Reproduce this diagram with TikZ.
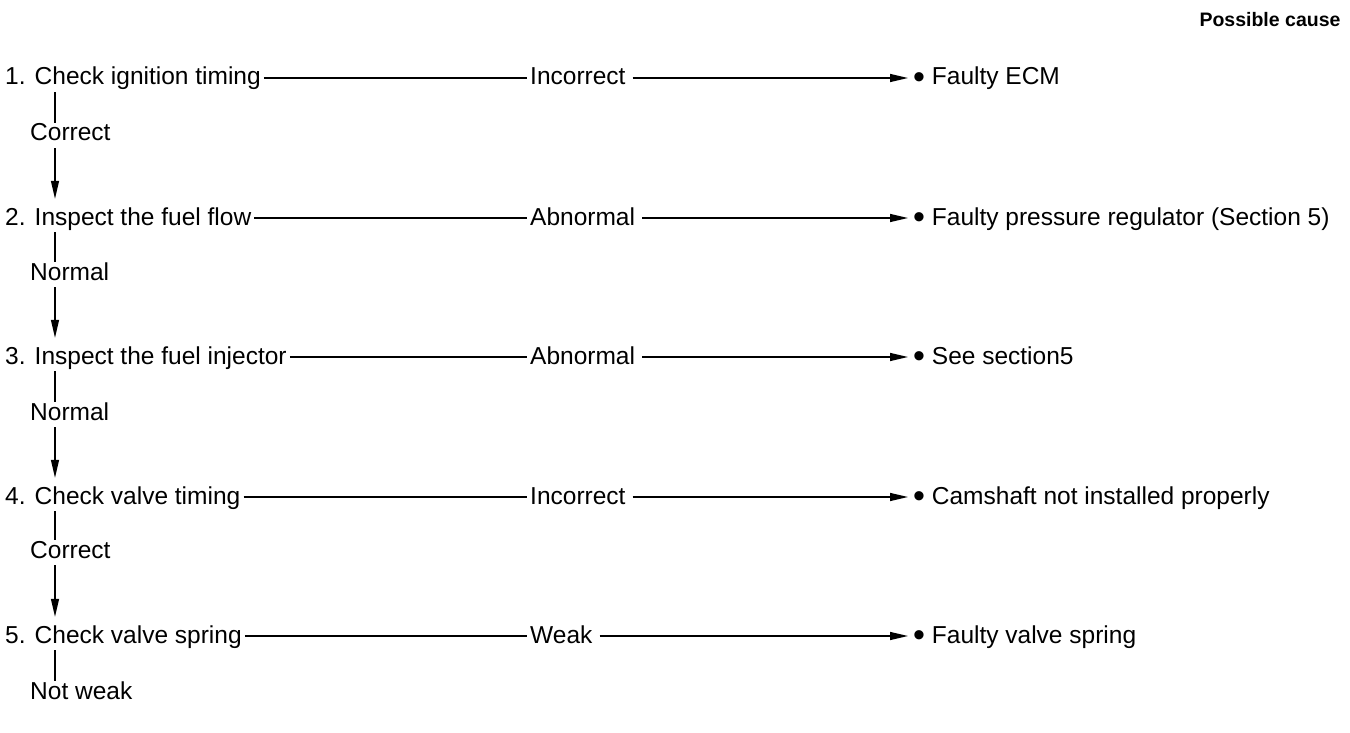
\documentclass[tikz,border=0pt]{standalone}
\usepackage{fontspec}
\setmainfont{Liberation Sans}
\usetikzlibrary{arrows.meta}
\newcommand{\bul}{\raisebox{-3.5pt}{\fontsize{34}{34}\selectfont •}}
\begin{document}
\begin{tikzpicture}[x=1pt,y=-1pt,
  every node/.style={font=\fontsize{24.5}{28}\selectfont, inner xsep=3pt, inner ysep=2pt, text height=19pt, text depth=5pt},
  stepbox/.style={anchor=west},
  outcome/.style={anchor=west},
  result/.style={anchor=west},
  cause/.style={anchor=west, inner xsep=5pt},
  conn/.style={line width=1.3pt},
  arr/.style={line width=1.3pt, -{Triangle[length=18pt,width=8pt]}},
  hdr/.style={font=\fontsize{19.5}{23}\selectfont\bfseries}]
\useasboundingbox (0,0) rectangle (1350,733);
\coordinate (v) at (55,0);

\node[hdr] (h) at (1270,20) {Possible cause};

% steps
\node[stepbox] (s1) at (2,78) {1. Check ignition timing};
\node[stepbox] (s2) at (2,218) {2. Inspect the fuel flow};
\node[stepbox] (s3) at (2,357) {3. Inspect the fuel injector};
\node[stepbox] (s4) at (2,497) {4. Check valve timing};
\node[stepbox] (s5) at (2,636) {5. Check valve spring};

% downward results
\node[result] (l1) at (27,134) {Correct};
\node[result] (l2) at (27,273) {Normal};
\node[result] (l3) at (27,413) {Normal};
\node[result] (l4) at (27,551) {Correct};
\node[result] (l5) at (27,692) {Not weak};

% side outcomes
\node[outcome] (m1) at (527,78) {Incorrect};
\node[outcome] (m2) at (527,218) {Abnormal};
\node[outcome] (m3) at (527,357) {Abnormal};
\node[outcome] (m4) at (527,497) {Incorrect};
\node[outcome] (m5) at (527,636) {Weak};

% causes
\node[cause] (r1) at (908,78) {\bul\ Faulty ECM};
\node[cause] (r2) at (908,218) {\bul\ Faulty pressure regulator (Section 5)};
\node[cause] (r3) at (908,357) {\bul\ See section5};
\node[cause] (r4) at (908,497) {\bul\ Camshaft not installed properly};
\node[cause] (r5) at (908,636) {\bul\ Faulty valve spring};

% horizontal connectors and short vertical stubs
\foreach \i in {1,...,5}{
  \draw[conn] (s\i.east) -- (m\i.west);
  \draw[arr] ([xshift=4pt]m\i.east) -- (r\i.west);
  \draw[conn] (v |- s\i.south) -- ([yshift=-3pt]v |- l\i.north);
}
% vertical arrows
\draw[arr, shorten >=5pt] (v |- l1.south) -- (v |- s2.north);
\draw[arr, shorten >=5pt] (v |- l2.south) -- (v |- s3.north);
\draw[arr, shorten >=5pt] (v |- l3.south) -- (v |- s4.north);
\draw[arr, shorten >=5pt] (v |- l4.south) -- (v |- s5.north);
\end{tikzpicture}
\end{document}
